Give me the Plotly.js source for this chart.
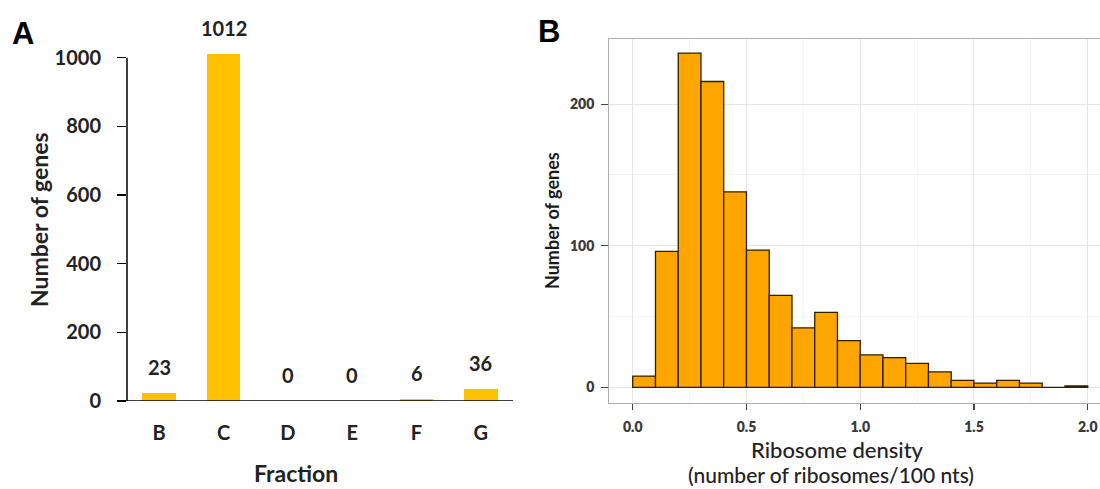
<!DOCTYPE html>
<html><head><meta charset="utf-8">
<script src="https://cdn.plot.ly/plotly-3.0.1.min.js"></script>
<style>html,body{margin:0;padding:0;background:#fff}#chart{width:1100px;height:489px}</style>
</head><body><div id="chart"></div>
<script>
// Panel A data
const fractions = ['B', 'C', 'D', 'E', 'F', 'G'];
const geneCounts = [23, 1012, 0, 0, 6, 36];
const geneTicks = [0, 200, 400, 600, 800, 1000];

// Panel B data (histogram, bin width 0.1)
const binLeft = [0.0, 0.1, 0.2, 0.3, 0.4, 0.5, 0.6, 0.7, 0.8, 0.9, 1.0, 1.1, 1.2, 1.3, 1.4, 1.5, 1.6, 1.7, 1.8, 1.9];
const binCounts = [8, 96, 236, 216, 138, 97, 65, 42, 53, 33, 23, 21, 17, 11, 5, 3, 5, 3, 0, 1];
const binWidth = 0.1;
const densityTicks = [0, 0.5, 1, 1.5, 2];
const densityTickText = ['0.0', '0.5', '1.0', '1.5', '2.0'];
const countTicks = [0, 100, 200];

const W = 1100, H = 489;
const px = v => v / W;
const py = v => 1 - v / H;

const fontA = 'Lato, "Open Sans", sans-serif';
const textCol = '#222';

const traces = [
  {
    type: 'bar', x: fractions, y: geneCounts, xaxis: 'x', yaxis: 'y',
    width: 0.52, marker: {color: '#FFC000'}, cliponaxis: true
  },
  {
    type: 'bar', x: binLeft, y: binCounts, xaxis: 'x2', yaxis: 'y2',
    width: binWidth, offset: 0,
    marker: {color: '#FFA500', line: {color: '#2e2000', width: 1.3}}
  }
];

const annotations = [];
fractions.forEach((f, i) => {
  annotations.push({
    xref: 'x', yref: 'y', x: f, y: geneCounts[i], yshift: 26,
    xanchor: 'center', yanchor: 'middle',
    text: String(geneCounts[i]), showarrow: false,
    font: {family: fontA, size: 20, color: textCol, weight: 700}
  });
});
function lab(x, y, text, size, weight, extra) {
  return Object.assign({xref: 'paper', yref: 'paper', x: px(x), y: py(y), xanchor: 'center', yanchor: 'middle',
    text: text, showarrow: false, font: {family: fontA, size: size, color: textCol, weight: weight}}, extra || {});
}
annotations.push(
  lab(23, 33, 'A', 30, 700, {font: {family: 'Liberation Sans, Arial, sans-serif', size: 31, color: '#000', weight: 700}}),
  lab(549, 31, 'B', 30, 700, {font: {family: 'Liberation Sans, Arial, sans-serif', size: 31, color: '#000', weight: 700}}),
  lab(296, 473, 'Fraction', 23, 700),
  lab(39, 220, 'Number of genes', 23, 700, {textangle: -90}),
  lab(552, 221, 'Number of genes', 18, 700, {textangle: -90, font: {family: fontA, size: 18, color: '#1a1a1a', weight: 700}}),
  lab(837, 449, 'Ribosome density', 22, 500),
  lab(831, 474, '(number of ribosomes/100 nts)', 21, 500)
);

const yTopA = 1013;
const layout = {
  width: W, height: H,
  margin: {l: 0, r: 0, t: 0, b: 0},
  paper_bgcolor: '#fff', plot_bgcolor: 'rgba(0,0,0,0)',
  showlegend: false, bargap: 0,
  xaxis: {
    domain: [px(127), px(513)], range: [-0.5, 5.5], type: 'category', anchor: 'y',
    showline: false, ticks: '', showgrid: false, zeroline: false,
    tickfont: {family: fontA, size: 20, color: textCol, weight: 700}, ticklabelstandoff: 18
  },
  yaxis: {
    domain: [py(401), py(401 - 0.3433 * yTopA)], range: [0, yTopA], anchor: 'x',
    tickvals: geneTicks, showline: false,
    ticks: 'outside', ticklen: 9, tickwidth: 1.5, tickcolor: '#000',
    showgrid: false, zeroline: false,
    tickfont: {family: fontA, size: 20, color: textCol, weight: 700}, ticklabelstandoff: 12
  },
  xaxis2: {
    domain: [px(609.3), 1], range: [-0.103, 2.054], anchor: 'y2',
    tickvals: densityTicks, ticktext: densityTickText,
    ticks: 'outside', ticklen: 6, tickwidth: 1.2, tickcolor: '#444',
    showline: true, mirror: true, linecolor: '#b0b0b0', linewidth: 1.2,
    showgrid: true, gridcolor: '#e6e6e6', gridwidth: 1, zeroline: false,
    minor: {showgrid: true, dtick: 0.25, tick0: 0, gridcolor: '#f4f4f4', gridwidth: 1},
    tickfont: {family: fontA, size: 14, color: '#3a3a3a', weight: 800}, ticklabelstandoff: 5
  },
  yaxis2: {
    domain: [py(403), py(39)], range: [-11, 246], anchor: 'x2',
    tickvals: countTicks,
    ticks: 'outside', ticklen: 7, tickwidth: 1.2, tickcolor: '#444',
    showline: true, mirror: false, linecolor: '#b0b0b0', linewidth: 1.2,
    showgrid: true, gridcolor: '#e6e6e6', gridwidth: 1, zeroline: false,
    minor: {showgrid: true, dtick: 50, tick0: 0, gridcolor: '#f4f4f4', gridwidth: 1},
    tickfont: {family: fontA, size: 14, color: '#3a3a3a', weight: 800}, ticklabelstandoff: 4
  },
  shapes: [
    {type: 'line', xref: 'paper', yref: 'y', x0: px(118), x1: px(513), y0: 0, y1: 0,
     line: {color: '#000', width: 1.5}},
    {type: 'line', xref: 'paper', yref: 'y', x0: px(127), x1: px(127), y0: 0, y1: geneTicks[geneTicks.length - 1],
     line: {color: '#000', width: 1.5}}
  ],
  annotations: annotations
};

Plotly.newPlot('chart', traces, layout, {displayModeBar: false, staticPlot: true});
</script>
</body></html>
